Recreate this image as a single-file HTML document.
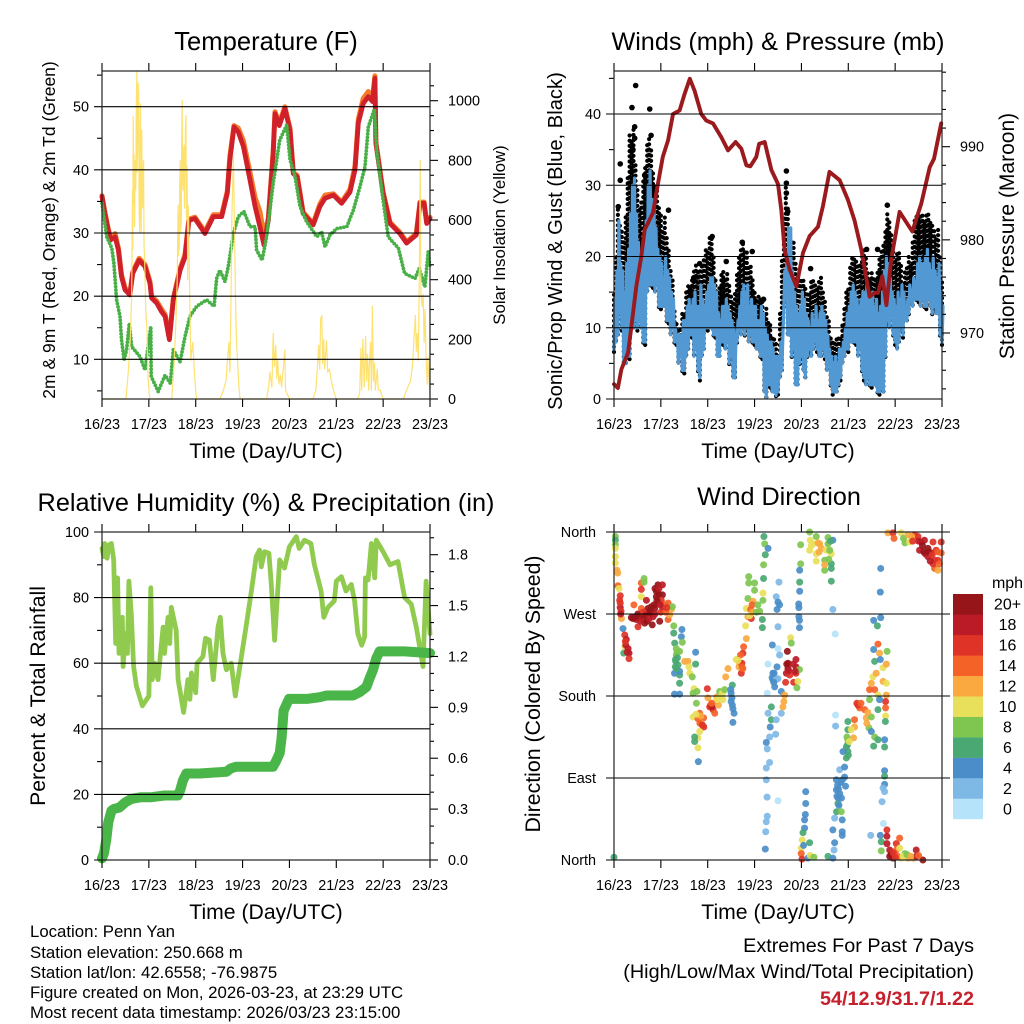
<!DOCTYPE html>
<html lang="en">
<head>
<meta charset="utf-8">
<title>Penn Yan Station Meteogram</title>
<style>
html,body{margin:0;padding:0;background:#fff;}
svg{display:block;font-family:"Liberation Sans",Arial,sans-serif;}
</style>
</head>
<body>
<svg id="figure" xmlns="http://www.w3.org/2000/svg" width="1024" height="1024" viewBox="0 0 1024 1024">
<rect width="1024" height="1024" fill="#fff"/>
<text x="266" y="50" font-size="25.6" text-anchor="middle">Temperature (F)</text>
<text x="778" y="50" font-size="25.2" text-anchor="middle">Winds (mph) &amp; Pressure (mb)</text>
<text x="266" y="511" font-size="25.3" text-anchor="middle">Relative Humidity (%) &amp; Precipitation (in)</text>
<text x="779" y="505" font-size="25.2" text-anchor="middle">Wind Direction</text>
<text x="266" y="458" font-size="21.2" text-anchor="middle">Time (Day/UTC)</text>
<text x="778" y="458" font-size="21.2" text-anchor="middle">Time (Day/UTC)</text>
<text x="266" y="919" font-size="21.2" text-anchor="middle">Time (Day/UTC)</text>
<text x="778" y="919" font-size="21.2" text-anchor="middle">Time (Day/UTC)</text>
<text transform="translate(55,230) rotate(-90)" font-size="17.5" text-anchor="middle">2m &amp; 9m T (Red, Orange) &amp; 2m Td (Green)</text>
<text transform="translate(505,235) rotate(-90)" font-size="16.8" text-anchor="middle">Solar Insolation (Yellow)</text>
<text transform="translate(562,241) rotate(-90)" font-size="20.2" text-anchor="middle">Sonic/Prop Wind &amp; Gust (Blue, Black)</text>
<text transform="translate(1014,236) rotate(-90)" font-size="21" text-anchor="middle">Station Pressure (Maroon)</text>
<text transform="translate(45,696) rotate(-90)" font-size="21.2" text-anchor="middle">Percent &amp; Total Rainfall</text>
<text transform="translate(540,694) rotate(-90)" font-size="21.3" text-anchor="middle">Direction (Colored By Speed)</text>
<g font-size="16.8">
<text x="30" y="937">Location: Penn Yan</text>
<text x="30" y="958">Station elevation: 250.668 m</text>
<text x="30" y="978">Station lat/lon: 42.6558; -76.9875</text>
<text x="30" y="998">Figure created on Mon, 2026-03-23, at 23:29 UTC</text>
<text x="30" y="1018">Most recent data timestamp: 2026/03/23 23:15:00</text>
</g>
<g text-anchor="end" font-size="19.8">
<text x="974" y="952">Extremes For Past 7 Days</text>
<text x="974" y="978">(High/Low/Max Wind/Total Precipitation)</text>
<text x="974" y="1005" font-weight="bold" fill="#c5202b">54/12.9/31.7/1.22</text>
</g>
</svg>
<script>
// ---- shared axis data ----
const timeTickHours = [0, 24, 48, 72, 96, 120, 144, 168];
const timeTickLabels = ["16/23", "17/23", "18/23", "19/23", "20/23", "21/23", "22/23", "23/23"];

// ---- temperature panel ----
const tempHours = [0,1.5,3.2,4.4,6.7,8.4,10,11.8,14.3,15.7,19,22,24.6,25.4,28,30.6,32.3,34.5,36.5,40,42.5,44.5,47.6,52.7,57,61.3,64.2,65.5,67.6,69.8,72.4,75.8,78.4,80.9,83,85.2,87.7,88.6,90.8,93.7,96.3,98,100,103,108.2,111.6,114.2,118.5,122.7,127,129.6,131.3,133.8,136.4,138.6,139.8,140.3,144,147.5,152.6,156,161,162.9,165,166.3,168];
const temp2mValues = [35.8,33.1,30.5,28.9,29.4,27.3,23.1,21,20.2,23.6,25.7,24.7,22,19.7,18.9,17.5,16.8,13.1,19.4,24.1,26.2,32,32.3,29.9,32.6,32.6,36.3,41.6,46.8,46,43.7,38.4,34.2,31,28.1,32,42.6,48.9,47,49.7,46.3,39.4,38.9,33.1,31.3,34.2,35.5,36,34.7,36.5,40,47.4,50.5,51.6,50.8,54.5,44.2,36.3,31.5,29.9,28.4,29.7,34.7,34.7,31.5,32.3];
const temp9mValues = [35.9,33.3,30.7,29.2,29.9,27.6,23.4,21.3,20.4,23.8,26,25,22.3,20,19.2,17.9,17.1,13.4,19.6,24.4,26.6,32.2,32.5,30.2,32.9,32.9,36.6,42.2,47,46.6,44.6,39.6,35.6,33.4,29.6,32.3,43,49.2,47.4,50,46.6,39.6,39.1,33.3,31.5,34.6,36,36.2,34.9,36.9,40.6,48,51.3,52.4,51.4,54.9,44.4,36.5,31.7,30.1,28.6,29.9,34.9,34.9,31.7,32.5];
const dewHours = [0,2.4,5,6.1,7.5,9.2,10,11.3,12.6,14,15.2,19.5,22,25,25.2,28.8,32.3,35,36.5,40,42.5,45,48.5,53.6,57.4,58.7,60.4,63,64.7,67.3,69.8,72.7,75.8,78.4,79.2,82,84.3,87.7,91,94.6,96.3,98.9,101.4,104.8,110,112.5,114.2,116.8,120.2,125.4,128.7,132.1,134.7,136.4,139.5,140.7,144,146.6,151.8,155,160.3,162.5,165.4,167.1,168];
const dewValues = [34.7,29.4,27.6,25.2,19.4,16.8,13.1,9.9,11.5,15.7,12,10.4,8.3,15.2,7.3,4.9,7.5,6.2,11.5,9.6,13.6,16.8,18.4,19.4,18.4,22.8,24.1,22.3,24.7,29.9,32.6,33.4,31,31,27.3,25.7,29.4,37.9,44.7,47.1,41.6,38.9,34.2,31.8,29.4,30.2,27.8,29.7,30.7,31,33.6,37.3,40.5,46.8,49.6,43.1,35.2,29.4,27.6,23.6,22.8,24.4,21.5,27,24.5];
const solarHours = [0,12.3,13.5,14.5,15.2,
15.6,15.8,16,16.2,16.4,16.7,17,17.3,17.5,17.8,18,18.3,18.5,18.8,19,19.3,19.5,19.7,19.9,20.1,20.3,20.4,20.6,20.9,21.1,21.3,21.5,21.8,
22.4,23,23.5,24.2,24.5,35.7,36.8,37.8,38.5,
39,39.2,39.4,39.6,39.8,40,40.3,40.6,40.8,41.1,41.3,41.6,41.8,42,42.2,42.5,42.7,43,43.2,43.4,43.6,43.9,44.1,44.4,
44.9,45.5,46.5,47.2,48,48.5,60.4,62,63.5,64.5,65,65.5,66,66.5,67.3,68,68.5,69,69.5,70,70.7,84.3,85.5,86,87,87.7,88.3,89,89.5,90,90.6,91.3,92,93.7,94,95,96,108,109.5,110.5,111,111.5,112,112.6,113,113.5,114,115,115.6,116.5,117.5,118.5,120,131,132,132.6,133,133.6,134.3,135,135.5,136,136.6,137,137.5,138,138.5,139,139.6,140,141,141.5,142.5,144,154.3,156,158,159,160.5,161,161.5,162,162.5,163,163.4,164,164.5,165,165.5,166,166.6,167,168];
const solarWatts = [0,0,97,200,355,
700,500,947,650,820,578,800,700,950,1098,760,850,1060,1026,650,560,850,990,620,560,820,900,640,650,780,800,520,470,
300,240,80,20,0,0,100,250,400,
650,480,620,500,720,800,560,600,880,1000,720,700,830,850,640,780,900,950,620,600,780,400,650,600,
350,130,190,100,30,0,0,25,60,150,190,90,300,600,815,500,300,180,120,50,0,0,50,90,40,220,110,180,70,130,50,80,40,165,30,15,0,0,30,120,180,100,270,280,120,200,100,195,90,100,60,30,0,0,20,170,30,200,40,210,60,150,30,120,190,30,310,60,120,30,100,30,30,0,0,30,60,110,280,160,220,130,400,800,350,310,350,190,300,130,50,140,0];
const tempTicks = [10, 20, 30, 40, 50];
const tempTickLabels = ["10", "20", "30", "40", "50"];
const tempMinorTicks = [5, 15, 25, 35, 45, 55];
const solarTicks = [0, 200, 400, 600, 800, 1000];
const solarTickLabels = ["0", "200", "400", "600", "800", "1000"];
const solarMinorTicks = [50,100,150,250,300,350,450,500,550,650,700,750,850,900,950,1050];

// ---- wind panel (one reading per hour, hours 0 to 168) ----
const sonicLow = [7,8,9,12,10,5,5,7,6,11,10,11,10,11,10,8,8,15,16,16,16,15,16,13,13,13,13,11,11,9,10,8,8,5,6,4,4,6,7,9,9,6,7,4,3,6,7,10,10,10,10,9,9,6,6,8,8,7,8,5,6,3,3,8,10,9,10,9,10,8,9,8,8,7,7,6,6,1,0.2,2,2,1,1,0.5,1,3,4,13,14,9,9,6,7,2,2,5,6,4,3,6,7,6,7,8,7,6,6,7,6,4,5,2,1,1,1,2,3,5,6,7,7,8,8,8,8,6,7,4,3,2,3,2,2,2,2,1,1,1.5,1,6,11,10,12,9,8,7,8,10,9,11,11,12,14,13,14,14,14,13,14,13,13,14,13,12,13,12,12,9,8];
const sonicHigh = [14,18,25,19,18,15,19,21,26,30,31,26,22,19,20,22,25,30,32,28,27,24,21,20,19,17,20,18,17,15,14,10,9,9,9,11,11,13,14,13,14,15,13,13,16,14,13,15,16,17,17,16,15,12,11,13,13,14,13,12,11,10,9,11,13,15,16,15,16,13,14,13,13,11,11,13,12,10,9,8,8,7,6,6,6,8,9,18,19,24,24,18,15,13,12,13,15,14,12,11,10,12,11,13,11,12,13,12,11,9,7,6,5,6,5,7,7,8,10,12,13,15,16,15,14,13,14,15,15,16,15,14,15,13,14,12,13,15,18,20,19,17,15,14,13,15,14,16,15,13,14,16,15,17,16,19,20,19,19,20,21,19,18,20,18,17,19,15,13];
const gustHigh = [15,20,27,25,24,22,26,31,37,36,38,33,30,27,28,31,33,36,37,35,32,30,30,27,26,24,26,23,21,18,17,13,11,10,10,12,12,15,16,16,17,18,19,18,18,19,20,21,21,23,23,20,17,15,16,18,18,17,18,16,15,14,15,18,20,21,22,21,21,19,19,17,15,14,15,14,14,12,13,11,11,9,9,8,6,12,20,26,30,27,24,22,22,19,18,17,17,17,16,15,15,17,17,16,16,17,17,15,14,12,11,9,8,8,9,9,9,11,13,15,16,19,20,20,20,19,19,20,21,20,18,17,18,17,17,18,20,21,22,24,26,25,23,21,20,21,21,19,16,18,19,20,19,22,25,26,26,26,26,25,26,26,25,25,24,23,24,20,17];
const gustExtraHours = [11.1,9.2,18.3,3.2,3.2,2.2,27.9,15.7,88.3,88.3,88.3,89,65.7,57.5,76.6,100.7,40.8,70.8,140,129.4,135,43.9,10.6,10.6,19,9.7,50.3];
const gustExtraValues = [44,40.9,40.7,33,30.7,27,26.5,31.4,32,30.3,28.9,26.3,22,19.3,14,18.3,17,20.7,27.2,21,21,19,38.2,36.6,37,35,22.8];
const pressureHours = [0,2,3.8,7.2,8.9,11.4,14,15.7,20,22.5,25,27.7,30.2,33.6,36.2,38.8,41.3,44.7,47.3,50.7,55,58.4,62.3,65.2,67.8,69.8,72.9,74.3,77.2,80.6,84,85.7,87.4,90,93.4,96.8,100.2,104.5,107,110.4,115.6,119.8,123.2,126.7,130.9,133.5,135.2,137.4,139.5,142,146.3,152.8,157.4,161.7,163.9,167.6];
const pressureValues = [964.5,964.1,966.1,967.9,970.7,975,978.2,981.1,982.9,986,988.9,990.7,993.5,993.9,995.7,997.3,996,993.5,992.8,992.5,991,989.6,990.5,989.8,988,987.9,988.9,990.3,990.5,987.5,986,983.2,978.9,976.8,975,978.6,980.4,981.4,983.6,987.3,986.4,984.3,982.1,978.9,973.9,974.3,974.3,976.1,973,977.9,983,980.9,983.9,987.8,988.7,992.5];
const windTicks = [0, 10, 20, 30, 40];
const windTickLabels = ["0", "10", "20", "30", "40"];
const windMinorTicks = [5, 15, 25, 35, 45];
const pressureTicks = [970, 980, 990];
const pressureTickLabels = ["970", "980", "990"];
const pressureMinorTicks = [964,966,968,972,974,976,978,982,984,986,988,992,994,996,998];

// ---- humidity and rainfall panel ----
const humidityHours = [0,0.9,1.4,2.6,3.4,4.8,6,7,8,8.7,10.4,10.8,12,13,13.8,15,16.2,17.6,20.7,24,25,25.7,27,28.7,31.3,32,33.8,34.7,35.5,38,39,41.8,44,45,45.8,48,48.7,51.7,53,55,57,59.4,60.6,62,63.7,66.2,68.3,71.4,74,76.5,79,80.7,81.6,83.3,85.5,86.7,88.4,91,93.5,96,99.5,101,103.7,107,108.8,112.2,113.6,115.7,119,120,122.6,125,127.7,129.4,131,133,134.5,134.9,136.3,138,139.7,140.5,144,147.5,151.6,155,158.4,161,164.4,166,168];
const humidityValues = [95,92.5,96.5,92,96,96.5,91.5,66,86,63,74,59,69,63,85,75,59,53,47,50,83,55,60,55,71,63,74,66,77,70,55,45,55,49,57,51,60,62,67.6,67,55,71,74,63,58,60,50,62,72,82,92.5,94.5,89.4,94,93.5,84,67,91.5,89,95.5,98.6,95,97.5,96.5,90,82,74,77,79,85,86.4,82,84,79,69,65.5,68,86,85.4,96.5,86,97.5,94,90,91,80,78,71,59,85,69];
const rainHours = [0,1,2.2,3.2,4.8,6,9,12,15,20,25.3,32,38.9,40,41.5,43.2,50,63.7,66,68.8,80,87.6,89,91,92,92.5,93,95.8,105,111.5,115,128.5,132,135.4,137,138.8,140.5,142.2,152.4,155,168];
const rainTotals = [0.01,0.04,0.12,0.22,0.29,0.3,0.31,0.34,0.36,0.37,0.37,0.38,0.38,0.41,0.47,0.51,0.51,0.52,0.54,0.55,0.55,0.55,0.58,0.63,0.72,0.8,0.88,0.95,0.95,0.96,0.97,0.97,0.99,1.02,1.07,1.12,1.19,1.23,1.23,1.23,1.22];
const humidityTicks = [0, 20, 40, 60, 80, 100];
const humidityTickLabels = ["0", "20", "40", "60", "80", "100"];
const humidityMinorTicks = [10, 30, 50, 70, 90];
const rainTicks = [0, 0.3, 0.6, 0.9, 1.2, 1.5, 1.8];
const rainTickLabels = ["0.0", "0.3", "0.6", "0.9", "1.2", "1.5", "1.8"];
const rainMinorTicks = [0.1,0.2,0.4,0.5,0.7,0.8,1,1.1,1.3,1.4,1.6,1.7,1.9];

// ---- wind direction panel ----
const directionHours = [0,.7,.7,.7,.7,.7,.7,1.5,1.9,2,2.6,2.9,3.2,3.6,3.8,4.6,5.5,6.3,5.5,7.2,7.7,5,7.7,3.2,
8.9,10.2,11.4,12.3,14,14,15.4,15.4,14,14,14.9,15.7,16.6,17.4,16.6,19.1,19.6,20,21.7,22.5,22.5,23.4,24.8,24.8,25,27.7,27.7,29.4,29.9,13.1,18.3,9.7,21.7,24.2,25.9,20.8,28.5,
30.6,30.6,34.8,34.5,31.1,35,31.9,33.6,31.9,31.6,32.8,31,33.6,33.6,31,33.6,33.6,36.2,37.9,38.4,38.8,41.8,41.8,40.1,41,40.5,42.5,42.2,40.5,43.9,45.9,44.7,46,43.9,43,41.3,41.3,43,43.2,
47.8,48.1,49,50.7,51.6,52.4,52.7,54.1,55.8,55.5,56.7,57.2,58.4,60.6,60,60,60.9,60.9,61.5,
62.6,64.4,65.2,66,66,66.4,67.8,67.4,68.6,70.3,67.8,68.6,69,69,72,72,71.2,70.7,73.7,74.6,76.3,76.3,76.6,76,76,76.6,77.5,77.2,76.8,78.9,
84.5,83.1,84,84.8,83.5,84,81.1,84,78.9,83.5,84.8,81.4,81.4,82.3,84,78.5,85.7,80.6,78.9,80.6,85.7,83.1,80,82.8,79.7,78,78.5,79.7,78,78,78.4,84,78.5,78,77.7,77.5,87,87.4,86.5,90.5,90.8,88.8,89.1,89.1,88.3,87.9,93.2,93.2,93.2,92,94.2,93.7,95,90,
95.6,95.6,95.1,95.1,95.1,94.6,94.7,94.7,95,95,
100.2,100.5,102,100.2,103.6,103.6,105.3,106.2,103.6,107.9,107.9,109.6,109.6,111.3,108.7,111.3,111.3,111.3,112.1,107.9,112.1,113.3,
98.2,98.2,98,97.6,97.6,96.8,96.4,95.9,97.1,100.2,95.9,96.3,99.3,100.5,102.4,109.6,112.1,112.7,113,112.1,113,114,114.7,116.4,116.9,116.9,116.9,
113.9,113.9,114.2,115.6,115.6,118.6,118.1,118.1,119,119.8,119,117.3,119.8,119.8,119.8,122.7,123.2,123.2,124.4,125.8,128.4,129.2,130.6,131.8,131.8,133.5,135.2,133,130.9,130.9,133.5,131.8,132.6,134.3,133.5,133,135.2,136,136.4,137.8,139.5,139.9,137.8,139.5,139.5,139.1,139.1,139.1,139,135.2,136,135.2,138.6,138.6,138.6,138.6,138.6,137.8,138.6,137.3,138,136.6,136.4,136.6,133,134.9,113.5,113.5,
131.5,136.4,136.9,136.9,139.8,139.8,139.8,141.2,141.2,142.9,144.6,144.6,146.3,146.3,147.1,149,150.6,153.2,154.8,154.8,158.2,145.4,
140.3,142.9,143.4,147.1,148.3,149,150.6,151.4,154,155.7,157.4,156.5,159,160.8,160.8,162.5,163.4,164.2,164.2,165.9,167.6,167.6,165.9,163.4,
10.7,12.2,13.5,15,16,17,18,19,20.5,21,22,23,23.7,24,26.5,27,21,23,
3.2,3.4,6,6.8,5.8,
31.5,32.3,32.5,32,31.4,
43,44,45.3,44.5,42,
49.5,50.2,50,53.5,53,54,
60.4,60.6,59.8,
64,64.8,65.5,65.6,63.5,
70,69.5,71,73,
81,82,83,81.8,
88.5,89.5,92.8,91.8,
101,104.5,105,110,110.5,110.8,
114.5,115,116,117,114.8,115.2,116.5,
119.3,119.5,120,120.5,121.5,
125,126.5,129.5,130,
156,158,159.5,161.5,162,163,165,166,166.7,158.7,152.5,153,
142,143,144,148,150,152,156];
const directionDegrees = [3,355,351,346,342,333,326,318,315,301,298,285,277,273,265,254,247,242,234,232,227,227,221,282,
266,280,264,256,304,297,309,305,289,276,264,260,285,276,271,278,258,267,289,302,282,262,302,291,276,282,264,275,278,267,273,265,295,285,280,276,269,
257,249,253,245,238,239,232,229,225,218,214,205,203,194,182,182,207,218,218,212,205,228,215,201,188,183,185,172,157,161,156,150,146,141,134,135,130,123,108,
188,178,168,165,161,174,179,185,176,183,187,201,210,192,183,174,166,151,161,
220,216,205,210,227,234,243,257,267,265,276,287,311,304,304,296,284,280,280,273,285,293,309,264,255,324,335,347,355,342,
305,289,283,280,275,256,236,232,215,212,225,205,198,190,199,183,185,168,161,154,161,154,146,138,135,129,122,107,101,88,69,65,48,42,31,12,174,181,168,244,238,229,216,210,205,195,220,212,205,195,196,189,209,203,
346,325,318,305,295,281,277,267,263,255,
360,351,347,340,336,328,347,342,355,329,318,354,347,336,340,325,320,306,351,324,275,248,
75,62,50,44,35,30,22,13,16,19,7,1,2,5,3,4,2,11,19,33,46,53,62,53,44,31,27,
88,77,70,73,99,81,91,102,112,119,124,119,131,143,152,134,146,154,172,167,165,156,145,157,141,135,132,125,176,187,187,194,201,205,218,231,237,227,220,211,215,229,196,194,181,174,167,158,152,181,176,165,132,124,98,92,83,79,75,64,40,320,294,266,263,257,159,147,
27,27,20,10,33,26,18,11,4,2,18,11,24,13,2,7,2,2,11,4,0,4,
359,359,353,359,353,348,357,349,357,355,349,340,351,342,333,337,349,329,320,318,349,337,329,325,
266,270,262,272,268,262,265,271,280,270,285,292,280,272,272,277,298,298,
290,270,236,228,240,
220,228,222,210,212,
155,150,148,158,160,
170,168,172,170,176,178,
178,170,187,
212,225,216,212,219,
275,268,272,272,
200,205,198,195,
215,208,207,215,
345,348,338,330,340,350,
82,78,85,88,68,60,68,
135,126,115,130,143,
170,172,150,162,
350,345,336,338,328,335,340,338,325,338,355,350,
6,8,3,4,6,4,5];
const directionSpeeds = [6,8,6,8,10,10,10,12,12,14,10,16,18,16,12,4,16,18,10,18,18,6,16,16,
20,14,18,16,14,16,8,8,10,14,18,20,18,20,18,20,20,18,20,20,18,20,18,20,18,14,14,12,8,20,20,20,20,16,14,20,12,
8,6,4,4,6,8,8,8,8,6,6,4,6,6,4,4,4,12,12,10,10,4,6,8,10,8,8,8,10,14,14,12,16,10,10,6,6,10,4,
16,12,16,16,14,12,12,8,10,10,8,12,12,6,4,4,4,4,4,
10,14,16,14,16,14,12,10,12,16,10,8,8,8,8,8,12,14,8,8,8,10,6,6,6,8,6,8,6,4,
2,2,4,4,4,2,4,0,0,4,2,4,4,4,2,0,4,6,2,6,2,2,4,2,2,4,2,2,2,2,2,0,2,2,2,4,12,12,12,10,8,20,20,20,18,16,18,18,16,16,10,8,8,16,
8,8,4,6,4,4,4,4,4,4,
8,10,10,10,10,10,12,12,8,8,8,8,8,10,10,6,6,6,4,12,2,0,
4,4,4,4,4,6,10,10,4,6,14,16,4,10,8,6,4,2,4,4,2,6,6,8,4,4,4,
4,4,4,4,2,4,4,4,6,6,6,4,8,6,6,12,12,14,16,14,14,12,8,8,4,8,6,6,8,14,14,12,10,12,6,4,14,12,4,10,12,8,12,10,12,16,14,10,6,10,4,6,4,6,4,6,4,2,2,2,0,4,4,4,4,6,0,2,
2,4,6,8,16,18,18,18,20,20,16,14,14,10,10,8,12,12,18,18,20,14,
12,16,14,10,8,8,12,10,16,16,18,18,18,20,18,16,16,16,14,12,16,14,16,16,
20,20,18,16,20,20,18,20,20,18,20,20,18,16,14,16,20,18,
16,18,18,18,16,
6,8,6,6,6,
14,14,16,12,10,
16,18,14,12,10,10,
4,4,4,
12,14,16,14,10,
14,10,12,8,
4,4,2,4,
20,18,18,18,
10,12,12,8,8,6,
4,4,4,4,4,4,4,
8,6,6,10,10,
16,14,12,12,
18,20,18,20,18,16,16,14,14,20,12,16,
20,16,16,10,8,12,14];
const directionTicks = [0, 90, 180, 270, 360];
const directionTickLabels = ["North", "East", "South", "West", "North"];
const legendColors = ["#b5e3f9","#7eb9e6","#4a8dc8","#4aa873","#7ec650","#e8e05a","#f9a93f","#f46228","#e03327","#bb1b26","#961519"];
const legendLabels = ["0","2","4","6","8","10","12","14","16","18","20+"];

// ---- scales and helpers ----
const NS = "http://www.w3.org/2000/svg";
const figure = document.getElementById("figure");
function make(tag, attrs, parent) {
  const node = document.createElementNS(NS, tag);
  for (const key in attrs) node.setAttribute(key, attrs[key]);
  (parent || figure).appendChild(node);
  return node;
}
function linear(d0, d1, r0, r1) {
  return function (v) { return r0 + (v - d0) * (r1 - r0) / (d1 - d0); };
}
function polyPoints(xs, ys, xScale, yScale) {
  return xs.map(function (x, i) { return xScale(x).toFixed(1) + "," + yScale(ys[i]).toFixed(1); }).join(" ");
}
function drawLine(parent, name, xs, ys, xScale, yScale, style) {
  const line = make("polyline", Object.assign({ points: polyPoints(xs, ys, xScale, yScale), fill: "none", "stroke-linejoin": "round", "stroke-linecap": "round" }, style), parent);
  
  
  return line;
}
function tickLine(parent, name, x1, y1, x2, y2) {
  const tick = make("line", { x1: x1, y1: y1, x2: x2, y2: y2, stroke: "#000", "stroke-width": 1.1 }, parent);
  
  
}
function tickLabel(parent, name, x, y, anchor, content) {
  const label = make("text", { x: x, y: y, "text-anchor": anchor, "font-size": 14.4 }, parent);
  label.textContent = content;
  
  
}
function panelAxes(prefix, box, xScale, left, right) {
  const axes = make("g", {});
  
  
  timeTickHours.forEach(function (h, i) {
    const x = xScale(h);
    tickLine(axes, prefix + '-top-tick', x, box.top - 8, x, box.top);
    tickLine(axes, prefix + '-bottom-tick', x, box.bottom, x, box.bottom + 8);
    tickLabel(axes, prefix + '-time-label', x, box.bottom + 30, "middle", timeTickLabels[i]);
  });
  left.ticks.forEach(function (v, i) {
    const y = left.scale(v);
    tickLine(axes, prefix + '-gridline', box.left - 8, y, right.gridRight || box.right, y);
    tickLabel(axes, prefix + '-left-label', box.left - (left.labelGap || 13), y + 5, "end", left.labels[i]);
  });
  (left.minor || []).forEach(function (v) {
    const y = left.scale(v);
    tickLine(axes, prefix + '-left-minor-tick', box.left - 5, y, box.left, y);
  });
  (right.ticks || []).forEach(function (v, i) {
    const y = right.scale(v);
    tickLine(axes, prefix + '-right-tick', box.right, y, box.right + 8, y);
    tickLabel(axes, prefix + '-right-label', box.right + 18, y + 5, "start", right.labels[i]);
  });
  (right.minor || []).forEach(function (v) {
    const y = right.scale(v);
    tickLine(axes, prefix + '-right-minor-tick', box.right, y, box.right + 4, y);
  });
  const frame = make("rect", { x: box.left, y: box.top, width: box.right - box.left, height: box.bottom - box.top, fill: "none", stroke: "#222", "stroke-width": 1.2 }, axes);
  
  
}

// ---- temperature panel ----
const tempBox = { left: 102, right: 430, top: 71, bottom: 399 };
const tempX = linear(0, 168, tempBox.left, tempBox.right);
const tempY = linear(50, 10, 106.7, 359.3);
const solarY = linear(0, 1000, 399, 100.7);
const tempMarks = make("g", {});


drawLine(tempMarks, 'temperature-9m-line', tempHours, temp9mValues, tempX, tempY, { stroke: "#f47b2a", "stroke-width": 5 });
drawLine(tempMarks, 'temperature-2m-line', tempHours, temp2mValues, tempX, tempY, { stroke: "#d0202a", "stroke-width": 4.8 });
drawLine(tempMarks, 'dewpoint-dots', dewHours, dewValues, tempX, tempY, { stroke: "#49b048", "stroke-width": 3.8, "stroke-dasharray": "0 3.4" });
drawLine(tempMarks, 'solar-insolation-line', solarHours, solarWatts, tempX, solarY, { stroke: "#fde06a", "stroke-width": 1.2, "stroke-opacity": 0.95 });
panelAxes('temperature', tempBox, tempX,
  { ticks: tempTicks, labels: tempTickLabels, minor: tempMinorTicks, scale: tempY },
  { ticks: solarTicks, labels: solarTickLabels, minor: solarMinorTicks, scale: solarY });

// ---- wind panel ----
const windBox = { left: 614, right: 942, top: 71, bottom: 399 };
const windX = linear(0, 168, windBox.left, windBox.right);
const windY = linear(0, 40, 399, 114);
const pressureY = linear(970, 990, 333, 146.7);
const windMarks = make("g", {});


sonicLow.forEach(function (low, hour) {
  const gustColumn = drawLine(windMarks, 'gust-dots', [hour, hour], [low - 0.4, gustHigh[hour]], windX, windY, { stroke: "#000", "stroke-width": 4.2, "stroke-dasharray": "0 5.2" });
  gustColumn.setAttribute('stroke-dashoffset', String(hour % 4));
});
gustExtraHours.forEach(function (h, i) {
  const dot = make("circle", { cx: windX(h), cy: windY(gustExtraValues[i]), r: 2.8, fill: "#000" }, windMarks);
  
  
});
const sonicZigzagX = [];
const sonicZigzagY = [];
sonicLow.forEach(function (low, hour) {
  sonicZigzagX.push(hour, hour + 0.5);
  sonicZigzagY.push(low, sonicHigh[hour]);
});
drawLine(windMarks, 'sonic-wind-band', sonicZigzagX, sonicZigzagY, windX, windY, { stroke: "#5299d3", "stroke-width": 3.2 });
drawLine(windMarks, 'pressure-line', pressureHours, pressureValues, windX, pressureY, { stroke: "#9b1a1e", "stroke-width": 3.9 });
panelAxes('winds', windBox, windX,
  { ticks: windTicks, labels: windTickLabels, minor: windMinorTicks, scale: windY },
  { ticks: pressureTicks, labels: pressureTickLabels, minor: pressureMinorTicks, scale: pressureY });

// ---- humidity panel ----
const rhBox = { left: 102, right: 430, top: 532, bottom: 860 };
const rhX = linear(0, 168, rhBox.left, rhBox.right);
const rhY = linear(0, 100, 860, 532);
const rainY = linear(0, 1.8, 860, 554.7);
const rhMarks = make("g", {});


drawLine(rhMarks, 'relative-humidity-line', humidityHours, humidityValues, rhX, rhY, { stroke: "#90cb50", "stroke-width": 4.8 });
drawLine(rhMarks, 'total-rainfall-line', rainHours, rainTotals, rhX, rainY, { stroke: "#4ab548", "stroke-width": 10 });
panelAxes('humidity', rhBox, rhX,
  { ticks: humidityTicks, labels: humidityTickLabels, minor: humidityMinorTicks, scale: rhY },
  { ticks: rainTicks, labels: rainTickLabels, minor: rainMinorTicks, scale: rainY });

// ---- direction panel ----
const dirBox = { left: 614, right: 942, top: 532, bottom: 860 };
const dirX = linear(0, 168, dirBox.left, dirBox.right);
const dirY = linear(0, 360, 860, 532);
const dirMarks = make("g", {});


directionHours.forEach(function (h, i) {
  const level = Math.min(legendColors.length - 1, Math.floor(directionSpeeds[i] / 2));
  const dot = make("circle", { cx: dirX(h), cy: dirY(directionDegrees[i]), r: 3.5, fill: legendColors[level], "fill-opacity": 0.92 }, dirMarks);
  
  
});
panelAxes('direction', dirBox, dirX,
  { ticks: directionTicks, labels: directionTickLabels, scale: dirY, labelGap: 18 },
  { gridRight: dirBox.right + 8 });

// ---- speed legend ----
const legend = make("g", {});


const legendTitle = make("text", { x: 1007.5, y: 588, "text-anchor": "middle", "font-size": 16 }, legend);
legendTitle.textContent = "mph";


const legendBoxHeight = 225 / legendColors.length;
legendColors.forEach(function (color, i) {
  const y = 594 + (legendColors.length - 1 - i) * legendBoxHeight;
  const swatch = make("rect", { x: 953, y: y, width: 30, height: legendBoxHeight + 0.2, fill: color }, legend);
  
  
  const label = make("text", { x: 1007.5, y: y + legendBoxHeight / 2 + 5.5, "text-anchor": "middle", "font-size": 16 }, legend);
  label.textContent = legendLabels[i];
  
  
});
</script>
</body>
</html>
